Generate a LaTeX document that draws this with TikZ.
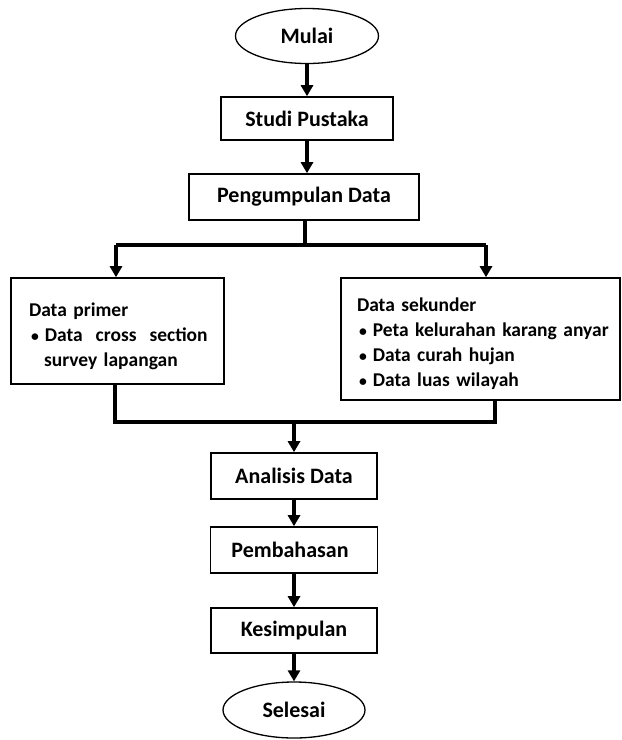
\documentclass[tikz,border=0pt]{standalone}
\usepackage{fontspec}
\setmainfont{Carlito}
\usetikzlibrary{arrows.meta,shapes.geometric}
\newcommand{\titik}{\hspace*{2pt}\scalebox{0.8}{•}\hspace{6pt}}

\begin{document}
\begin{tikzpicture}[x=1pt, y=-1pt, >={Triangle[length=11pt,width=12pt]},
	kotak/.style={draw, line width=1.6pt, rectangle, inner sep=0pt, font=\fontsize{22}{25}\selectfont\bfseries},
	oval/.style={draw, line width=1.3pt, ellipse, inner sep=0pt, font=\fontsize{22}{25}\selectfont\bfseries},
	isi/.style={draw, line width=1.6pt, rectangle, align=left, inner ysep=0pt, font=\fontsize{19.5}{25}\selectfont\bfseries},
	panah/.style={->, line width=3.5pt},
	garis/.style={line width=3.5pt}]
	\useasboundingbox (0,0) rectangle (622,740);
	% urutan atas
	\node[oval, minimum width=143pt, minimum height=55pt] (mulai) at (307,36) {Mulai};
	\node[kotak, minimum width=172pt, minimum height=43pt] (studi) at (307,118.5) {Studi Pustaka};
	\node[kotak, minimum width=230pt, minimum height=46pt] (kumpul) at (304,197) {Pengumpulan Data};
	% dua kotak data
	\node[isi, inner xsep=18pt, text width=177pt, minimum height=106pt] (primer) at (117.5,331)
		{\mbox{\rule{0pt}{25pt}Data primer}\\ \mbox{\titik Data\ \ cross\ \ section}\\ \mbox{\hspace*{15pt}survey lapangan}};
	\node[isi, inner xsep=16pt, text width=247pt, minimum height=122pt] (sekunder) at (480.5,339)
		{\mbox{\rule{0pt}{23pt}Data sekunder}\\ \mbox{\titik Peta kelurahan karang anyar}\\ \mbox{\titik Data curah hujan}\\ \mbox{\titik Data luas wilayah}};
	% urutan bawah
	\node[kotak, minimum width=166pt, minimum height=46pt] (analisis) at (294,476) {Analisis Data};
	\node[kotak, minimum width=167pt, minimum height=46pt] (bahas) at (294,550) {Pembahasan\hspace*{8pt}};
	\node[kotak, minimum width=166pt, minimum height=45pt] (simpul) at (294,630.5) {Kesimpulan};
	\node[oval, minimum width=142pt, minimum height=56pt] (selesai) at (294,710) {Selesai};
	\path
	(305,245) coordinate (cabang)
	(116,245) coordinate (ki)
	(486,245) coordinate (ka)
	(115,422) coordinate (kiri)
	(495,422) coordinate (kanan)
	(294,422) coordinate (gabung)
	;
	\draw[panah] (mulai) -- (studi);
	\draw[panah] (studi.south) -- (studi.south |- kumpul.north);
	\draw[garis] (kumpul.south -| cabang) -- (cabang);
	\draw[garis] (ki) -- (ka);
	\foreach \x/\y in {ki/primer,ka/sekunder}
	\draw[panah] (\x) -- (\x |- \y.north);
	\draw[garis] (kiri |- primer.south) -- (kiri) -- (kanan) -- (kanan |- sekunder.south);
	\draw[panah] (gabung) -- (analisis);
	\foreach \x/\y in {analisis/bahas,bahas/simpul,simpul/selesai}
	\draw[panah] (\x) -- (\y);
\end{tikzpicture}
\end{document}
